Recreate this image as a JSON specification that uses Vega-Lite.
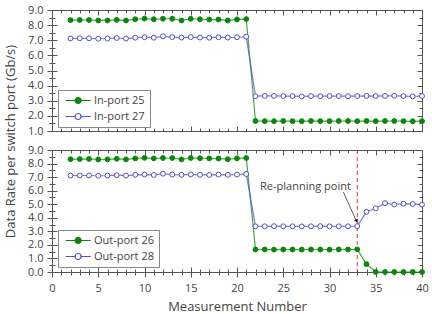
{
  "$schema": "https://vega.github.io/schema/vega-lite/v6.json",
  "background": "white",
  "padding": {"left": 3, "top": 3, "right": 3, "bottom": 0},
  "bounds": "flush",
  "spacing": 19,
  "config": {
    "view": {"stroke": "#555", "strokeWidth": 1},
    "font": "Open Sans",
    "axis": {"labelFont": "Open Sans", "titleFont": "Open Sans", "labelFontSize": 11, "titleFontSize": 13, "titleFontWeight": "normal", "labelColor": "#444", "titleColor": "#444", "domain": false, "tickColor": "#555", "grid": false, "labelFlush": false, "labelOverlap": false},
    "legend": {"labelFont": "Open Sans", "labelFontSize": 11, "labelColor": "#444", "strokeColor": "#888", "fillColor": "#ffffff", "padding": 5, "rowPadding": 4, "symbolStrokeWidth": 1.2, "symbolOpacity": 1}
  },
  "datasets": {
    "top": [
      {"series":"In-port 25","x":2,"y":8.33},{"series":"In-port 25","x":3,"y":8.34},{"series":"In-port 25","x":4,"y":8.34},{"series":"In-port 25","x":5,"y":8.31},{"series":"In-port 25","x":6,"y":8.31},{"series":"In-port 25","x":7,"y":8.35},{"series":"In-port 25","x":8,"y":8.31},{"series":"In-port 25","x":9,"y":8.39},{"series":"In-port 25","x":10,"y":8.43},{"series":"In-port 25","x":11,"y":8.39},{"series":"In-port 25","x":12,"y":8.42},{"series":"In-port 25","x":13,"y":8.42},{"series":"In-port 25","x":14,"y":8.31},{"series":"In-port 25","x":15,"y":8.42},{"series":"In-port 25","x":16,"y":8.39},{"series":"In-port 25","x":17,"y":8.37},{"series":"In-port 25","x":18,"y":8.37},{"series":"In-port 25","x":19,"y":8.31},{"series":"In-port 25","x":20,"y":8.38},{"series":"In-port 25","x":21,"y":8.40},
      {"series":"In-port 25","x":22,"y":1.66},{"series":"In-port 25","x":23,"y":1.65},{"series":"In-port 25","x":24,"y":1.65},{"series":"In-port 25","x":25,"y":1.66},{"series":"In-port 25","x":26,"y":1.65},{"series":"In-port 25","x":27,"y":1.65},{"series":"In-port 25","x":28,"y":1.66},{"series":"In-port 25","x":29,"y":1.65},{"series":"In-port 25","x":30,"y":1.65},{"series":"In-port 25","x":31,"y":1.66},{"series":"In-port 25","x":32,"y":1.66},{"series":"In-port 25","x":33,"y":1.65},{"series":"In-port 25","x":34,"y":1.66},{"series":"In-port 25","x":35,"y":1.65},{"series":"In-port 25","x":36,"y":1.66},{"series":"In-port 25","x":37,"y":1.66},{"series":"In-port 25","x":38,"y":1.65},{"series":"In-port 25","x":39,"y":1.64},{"series":"In-port 25","x":40,"y":1.65},
      {"series":"In-port 27","x":2,"y":7.12},{"series":"In-port 27","x":3,"y":7.13},{"series":"In-port 27","x":4,"y":7.13},{"series":"In-port 27","x":5,"y":7.10},{"series":"In-port 27","x":6,"y":7.11},{"series":"In-port 27","x":7,"y":7.15},{"series":"In-port 27","x":8,"y":7.11},{"series":"In-port 27","x":9,"y":7.17},{"series":"In-port 27","x":10,"y":7.20},{"series":"In-port 27","x":11,"y":7.17},{"series":"In-port 27","x":12,"y":7.26},{"series":"In-port 27","x":13,"y":7.21},{"series":"In-port 27","x":14,"y":7.18},{"series":"In-port 27","x":15,"y":7.21},{"series":"In-port 27","x":16,"y":7.18},{"series":"In-port 27","x":17,"y":7.17},{"series":"In-port 27","x":18,"y":7.20},{"series":"In-port 27","x":19,"y":7.18},{"series":"In-port 27","x":20,"y":7.20},{"series":"In-port 27","x":21,"y":7.24},
      {"series":"In-port 27","x":22,"y":3.30},{"series":"In-port 27","x":23,"y":3.32},{"series":"In-port 27","x":24,"y":3.32},{"series":"In-port 27","x":25,"y":3.31},{"series":"In-port 27","x":26,"y":3.31},{"series":"In-port 27","x":27,"y":3.29},{"series":"In-port 27","x":28,"y":3.31},{"series":"In-port 27","x":29,"y":3.30},{"series":"In-port 27","x":30,"y":3.31},{"series":"In-port 27","x":31,"y":3.31},{"series":"In-port 27","x":32,"y":3.30},{"series":"In-port 27","x":33,"y":3.31},{"series":"In-port 27","x":34,"y":3.32},{"series":"In-port 27","x":35,"y":3.31},{"series":"In-port 27","x":36,"y":3.32},{"series":"In-port 27","x":37,"y":3.33},{"series":"In-port 27","x":38,"y":3.31},{"series":"In-port 27","x":39,"y":3.29},{"series":"In-port 27","x":40,"y":3.31}
    ],
    "bottom": [
      {"series":"Out-port 26","x":2,"y":8.32},{"series":"Out-port 26","x":3,"y":8.33},{"series":"Out-port 26","x":4,"y":8.34},{"series":"Out-port 26","x":5,"y":8.30},{"series":"Out-port 26","x":6,"y":8.31},{"series":"Out-port 26","x":7,"y":8.35},{"series":"Out-port 26","x":8,"y":8.31},{"series":"Out-port 26","x":9,"y":8.38},{"series":"Out-port 26","x":10,"y":8.42},{"series":"Out-port 26","x":11,"y":8.38},{"series":"Out-port 26","x":12,"y":8.41},{"series":"Out-port 26","x":13,"y":8.41},{"series":"Out-port 26","x":14,"y":8.31},{"series":"Out-port 26","x":15,"y":8.41},{"series":"Out-port 26","x":16,"y":8.39},{"series":"Out-port 26","x":17,"y":8.38},{"series":"Out-port 26","x":18,"y":8.37},{"series":"Out-port 26","x":19,"y":8.32},{"series":"Out-port 26","x":20,"y":8.38},{"series":"Out-port 26","x":21,"y":8.41},
      {"series":"Out-port 26","x":22,"y":1.66},{"series":"Out-port 26","x":23,"y":1.66},{"series":"Out-port 26","x":24,"y":1.65},{"series":"Out-port 26","x":25,"y":1.66},{"series":"Out-port 26","x":26,"y":1.66},{"series":"Out-port 26","x":27,"y":1.65},{"series":"Out-port 26","x":28,"y":1.66},{"series":"Out-port 26","x":29,"y":1.66},{"series":"Out-port 26","x":30,"y":1.65},{"series":"Out-port 26","x":31,"y":1.66},{"series":"Out-port 26","x":32,"y":1.66},{"series":"Out-port 26","x":33,"y":1.67},{"series":"Out-port 26","x":34,"y":0.58},{"series":"Out-port 26","x":35,"y":0},{"series":"Out-port 26","x":36,"y":0},{"series":"Out-port 26","x":37,"y":0},{"series":"Out-port 26","x":38,"y":0},{"series":"Out-port 26","x":39,"y":0},{"series":"Out-port 26","x":40,"y":0},
      {"series":"Out-port 28","x":2,"y":7.11},{"series":"Out-port 28","x":3,"y":7.12},{"series":"Out-port 28","x":4,"y":7.12},{"series":"Out-port 28","x":5,"y":7.10},{"series":"Out-port 28","x":6,"y":7.11},{"series":"Out-port 28","x":7,"y":7.14},{"series":"Out-port 28","x":8,"y":7.11},{"series":"Out-port 28","x":9,"y":7.17},{"series":"Out-port 28","x":10,"y":7.19},{"series":"Out-port 28","x":11,"y":7.16},{"series":"Out-port 28","x":12,"y":7.25},{"series":"Out-port 28","x":13,"y":7.19},{"series":"Out-port 28","x":14,"y":7.17},{"series":"Out-port 28","x":15,"y":7.20},{"series":"Out-port 28","x":16,"y":7.17},{"series":"Out-port 28","x":17,"y":7.16},{"series":"Out-port 28","x":18,"y":7.19},{"series":"Out-port 28","x":19,"y":7.17},{"series":"Out-port 28","x":20,"y":7.19},{"series":"Out-port 28","x":21,"y":7.23},
      {"series":"Out-port 28","x":22,"y":3.37},{"series":"Out-port 28","x":23,"y":3.37},{"series":"Out-port 28","x":24,"y":3.38},{"series":"Out-port 28","x":25,"y":3.37},{"series":"Out-port 28","x":26,"y":3.37},{"series":"Out-port 28","x":27,"y":3.36},{"series":"Out-port 28","x":28,"y":3.37},{"series":"Out-port 28","x":29,"y":3.38},{"series":"Out-port 28","x":30,"y":3.37},{"series":"Out-port 28","x":31,"y":3.37},{"series":"Out-port 28","x":32,"y":3.37},{"series":"Out-port 28","x":33,"y":3.38},{"series":"Out-port 28","x":34,"y":4.44},{"series":"Out-port 28","x":35,"y":4.70},{"series":"Out-port 28","x":36,"y":5.08},{"series":"Out-port 28","x":37,"y":4.98},{"series":"Out-port 28","x":38,"y":5.04},{"series":"Out-port 28","x":39,"y":5.02},{"series":"Out-port 28","x":40,"y":4.97}
    ],
    "vline": [{"x": 33}],
    "label": [{"x": 27.4, "y": 6.3, "text": "Re-planning point"}],
    "arrow": [{"x": 31.5, "y": 5.9, "x2": 32.88, "y2": 3.8}],
    "head": [{"x": 32.93, "y": 3.75}]
  },
  "vconcat": [
    {
      "width": 370, "height": 121,
      "data": {"name": "top"},
      "resolve": {"axis": {"x": "independent", "y": "independent"}},
      "layer": [
        {
          "mark": {"type": "line", "strokeWidth": 1.2, "strokeOpacity": 0.75},
          "encoding": {
            "x": {"field": "x", "type": "quantitative", "scale": {"domain": [0, 40], "nice": false, "zero": false},
                  "axis": {"orient": "bottom", "values": [0,5,10,15,20,25,30,35,40], "labels": false, "offset": -5, "tickSize": 5, "title": null}},
            "y": {"field": "y", "type": "quantitative", "scale": {"domain": [1, 9], "nice": false, "zero": false},
                  "axis": {"orient": "left", "values": [1,2,3,4,5,6,7,8,9], "format": ".1f", "offset": -5, "tickSize": 10, "labelPadding": 4,
                           "title": "Data Rate per switch port (Gb/s)", "titleX": -47, "titleY": 131, "titleAngle": -90, "titleAlign": "center", "titleBaseline": "middle"}},
            "stroke": {"field": "series", "type": "nominal", "scale": {"domain": ["In-port 25", "In-port 27"], "range": ["#0a870a", "#5050d0"]},
                       "legend": {"orient": "none", "legendX": 6, "legendY": 80, "direction": "vertical", "title": null, "symbolSize": 36, "labelOffset": 20, "symbolType": "M-1,0H2.2M4.2,0H7.4M4.2,0A1,1,0,1,1,2.2,0A1,1,0,1,1,4.2,0Z"}}
          }
        },
        {
          "mark": {"type": "circle", "size": 24, "strokeWidth": 1, "opacity": 1},
          "encoding": {
            "x": {"field": "x", "type": "quantitative", "scale": {"domain": [0, 40], "nice": false, "zero": false},
                  "axis": {"orient": "top", "values": [0,5,10,15,20,25,30,35,40], "labels": false, "offset": -5, "tickSize": 5, "title": null}},
            "y": {"field": "y", "type": "quantitative", "scale": {"domain": [1, 9], "nice": false, "zero": false},
                  "axis": {"orient": "right", "values": [1,2,3,4,5,6,7,8,9], "labels": false, "offset": -5, "tickSize": 5, "title": null}},
            "fill": {"field": "series", "type": "nominal", "scale": {"domain": ["In-port 25", "In-port 27"], "range": ["#0a870a", "#ffffff"]},
                     "legend": {"orient": "none", "legendX": 6, "legendY": 80, "direction": "vertical", "title": null, "symbolSize": 36, "labelOffset": 20, "symbolType": "M-1,0H2.2M4.2,0H7.4M4.2,0A1,1,0,1,1,2.2,0A1,1,0,1,1,4.2,0Z"}},
            "stroke": {"field": "series", "type": "nominal", "scale": {"domain": ["In-port 25", "In-port 27"], "range": ["#0a870a", "#5050d0"]},
                       "legend": {"orient": "none", "legendX": 6, "legendY": 80, "direction": "vertical", "title": null, "symbolSize": 36, "labelOffset": 20, "symbolType": "M-1,0H2.2M4.2,0H7.4M4.2,0A1,1,0,1,1,2.2,0A1,1,0,1,1,4.2,0Z"}}
          }
        },
        {
          "mark": {"type": "line", "opacity": 0},
          "encoding": {
            "x": {"field": "x", "type": "quantitative", "scale": {"domain": [0, 40], "nice": false, "zero": false},
                  "axis": {"orient": "bottom", "values": [1,2,3,4,6,7,8,9,11,12,13,14,16,17,18,19,21,22,23,24,26,27,28,29,31,32,33,34,36,37,38,39], "labels": false, "offset": -3, "tickSize": 3, "title": null}},
            "y": {"field": "y", "type": "quantitative", "scale": {"domain": [1, 9], "nice": false, "zero": false},
                  "axis": {"orient": "left", "values": [1.5,2.5,3.5,4.5,5.5,6.5,7.5,8.5], "labels": false, "offset": -3, "tickSize": 6, "title": null}}
          }
        },
        {
          "mark": {"type": "circle", "opacity": 0},
          "encoding": {
            "x": {"field": "x", "type": "quantitative", "scale": {"domain": [0, 40], "nice": false, "zero": false},
                  "axis": {"orient": "top", "values": [1,2,3,4,6,7,8,9,11,12,13,14,16,17,18,19,21,22,23,24,26,27,28,29,31,32,33,34,36,37,38,39], "labels": false, "offset": -3, "tickSize": 3, "title": null}},
            "y": {"field": "y", "type": "quantitative", "scale": {"domain": [1, 9], "nice": false, "zero": false},
                  "axis": {"orient": "right", "values": [1.5,2.5,3.5,4.5,5.5,6.5,7.5,8.5], "labels": false, "offset": -3, "tickSize": 3, "title": null}}
          }
        }
      ]
    },
    {
      "width": 370, "height": 122,
      "resolve": {"axis": {"x": "independent", "y": "independent"}},
      "layer": [
        {
          "data": {"name": "vline"},
          "mark": {"type": "rule", "color": "#e03a3a", "strokeDash": [4, 3], "strokeWidth": 1},
          "encoding": {
            "x": {"field": "x", "type": "quantitative", "scale": {"domain": [0, 40], "nice": false, "zero": false}, "axis": null}
          }
        },
        {
          "data": {"name": "bottom"},
          "mark": {"type": "line", "strokeWidth": 1.2, "strokeOpacity": 0.75},
          "encoding": {
            "x": {"field": "x", "type": "quantitative", "scale": {"domain": [0, 40], "nice": false, "zero": false},
                  "axis": {"orient": "bottom", "values": [0,5,10,15,20,25,30,35,40], "offset": -5, "tickSize": 10, "labelPadding": 5, "title": "Measurement Number", "titlePadding": 7}},
            "y": {"field": "y", "type": "quantitative", "scale": {"domain": [0, 9], "nice": false, "zero": false},
                  "axis": {"orient": "left", "values": [0,1,2,3,4,5,6,7,8,9], "format": ".1f", "offset": -5, "tickSize": 10, "labelPadding": 4, "title": null}},
            "stroke": {"field": "series", "type": "nominal", "scale": {"domain": ["Out-port 26", "Out-port 28"], "range": ["#0a870a", "#5050d0"]},
                       "legend": {"orient": "none", "legendX": 6, "legendY": 80, "direction": "vertical", "title": null, "symbolSize": 36, "labelOffset": 20, "symbolType": "M-1,0H2.2M4.2,0H7.4M4.2,0A1,1,0,1,1,2.2,0A1,1,0,1,1,4.2,0Z"}}
          }
        },
        {
          "data": {"name": "bottom"},
          "mark": {"type": "circle", "size": 24, "strokeWidth": 1, "opacity": 1},
          "encoding": {
            "x": {"field": "x", "type": "quantitative", "scale": {"domain": [0, 40], "nice": false, "zero": false},
                  "axis": {"orient": "top", "values": [0,5,10,15,20,25,30,35,40], "labels": false, "offset": -5, "tickSize": 5, "title": null}},
            "y": {"field": "y", "type": "quantitative", "scale": {"domain": [0, 9], "nice": false, "zero": false},
                  "axis": {"orient": "right", "values": [0,1,2,3,4,5,6,7,8,9], "labels": false, "offset": -5, "tickSize": 5, "title": null}},
            "fill": {"field": "series", "type": "nominal", "scale": {"domain": ["Out-port 26", "Out-port 28"], "range": ["#0a870a", "#ffffff"]},
                     "legend": {"orient": "none", "legendX": 6, "legendY": 80, "direction": "vertical", "title": null, "symbolSize": 36, "labelOffset": 20, "symbolType": "M-1,0H2.2M4.2,0H7.4M4.2,0A1,1,0,1,1,2.2,0A1,1,0,1,1,4.2,0Z"}},
            "stroke": {"field": "series", "type": "nominal", "scale": {"domain": ["Out-port 26", "Out-port 28"], "range": ["#0a870a", "#5050d0"]},
                       "legend": {"orient": "none", "legendX": 6, "legendY": 80, "direction": "vertical", "title": null, "symbolSize": 36, "labelOffset": 20, "symbolType": "M-1,0H2.2M4.2,0H7.4M4.2,0A1,1,0,1,1,2.2,0A1,1,0,1,1,4.2,0Z"}}
          }
        },
        {
          "data": {"name": "bottom"},
          "mark": {"type": "line", "opacity": 0},
          "encoding": {
            "x": {"field": "x", "type": "quantitative", "scale": {"domain": [0, 40], "nice": false, "zero": false},
                  "axis": {"orient": "bottom", "values": [1,2,3,4,6,7,8,9,11,12,13,14,16,17,18,19,21,22,23,24,26,27,28,29,31,32,33,34,36,37,38,39], "labels": false, "offset": -3, "tickSize": 6, "title": null}},
            "y": {"field": "y", "type": "quantitative", "scale": {"domain": [0, 9], "nice": false, "zero": false},
                  "axis": {"orient": "left", "values": [0.5,1.5,2.5,3.5,4.5,5.5,6.5,7.5,8.5], "labels": false, "offset": -3, "tickSize": 6, "title": null}}
          }
        },
        {
          "data": {"name": "bottom"},
          "mark": {"type": "circle", "opacity": 0},
          "encoding": {
            "x": {"field": "x", "type": "quantitative", "scale": {"domain": [0, 40], "nice": false, "zero": false},
                  "axis": {"orient": "top", "values": [1,2,3,4,6,7,8,9,11,12,13,14,16,17,18,19,21,22,23,24,26,27,28,29,31,32,33,34,36,37,38,39], "labels": false, "offset": -3, "tickSize": 3, "title": null}},
            "y": {"field": "y", "type": "quantitative", "scale": {"domain": [0, 9], "nice": false, "zero": false},
                  "axis": {"orient": "right", "values": [0.5,1.5,2.5,3.5,4.5,5.5,6.5,7.5,8.5], "labels": false, "offset": -3, "tickSize": 3, "title": null}}
          }
        },
        {
          "data": {"name": "label"},
          "mark": {"type": "text", "font": "Open Sans", "fontSize": 11, "color": "#444", "align": "center", "baseline": "middle"},
          "encoding": {
            "x": {"field": "x", "type": "quantitative", "scale": {"domain": [0, 40], "nice": false, "zero": false}, "axis": null},
            "y": {"field": "y", "type": "quantitative", "scale": {"domain": [0, 9], "nice": false, "zero": false}, "axis": null},
            "text": {"field": "text"}
          }
        },
        {
          "data": {"name": "arrow"},
          "mark": {"type": "rule", "color": "#333", "strokeWidth": 0.8},
          "encoding": {
            "x": {"field": "x", "type": "quantitative", "scale": {"domain": [0, 40], "nice": false, "zero": false}, "axis": null},
            "y": {"field": "y", "type": "quantitative", "scale": {"domain": [0, 9], "nice": false, "zero": false}, "axis": null},
            "x2": {"field": "x2"},
            "y2": {"field": "y2"}
          }
        },
        {
          "data": {"name": "head"},
          "mark": {"type": "point", "shape": "triangle-down", "angle": -23, "filled": true, "size": 16, "color": "#222", "opacity": 1},
          "encoding": {
            "x": {"field": "x", "type": "quantitative", "scale": {"domain": [0, 40], "nice": false, "zero": false}, "axis": null},
            "y": {"field": "y", "type": "quantitative", "scale": {"domain": [0, 9], "nice": false, "zero": false}, "axis": null}
          }
        }
      ]
    }
  ],
  "resolve": {"scale": {"fill": "independent", "stroke": "independent"}, "legend": {"fill": "independent", "stroke": "independent"}}
}
